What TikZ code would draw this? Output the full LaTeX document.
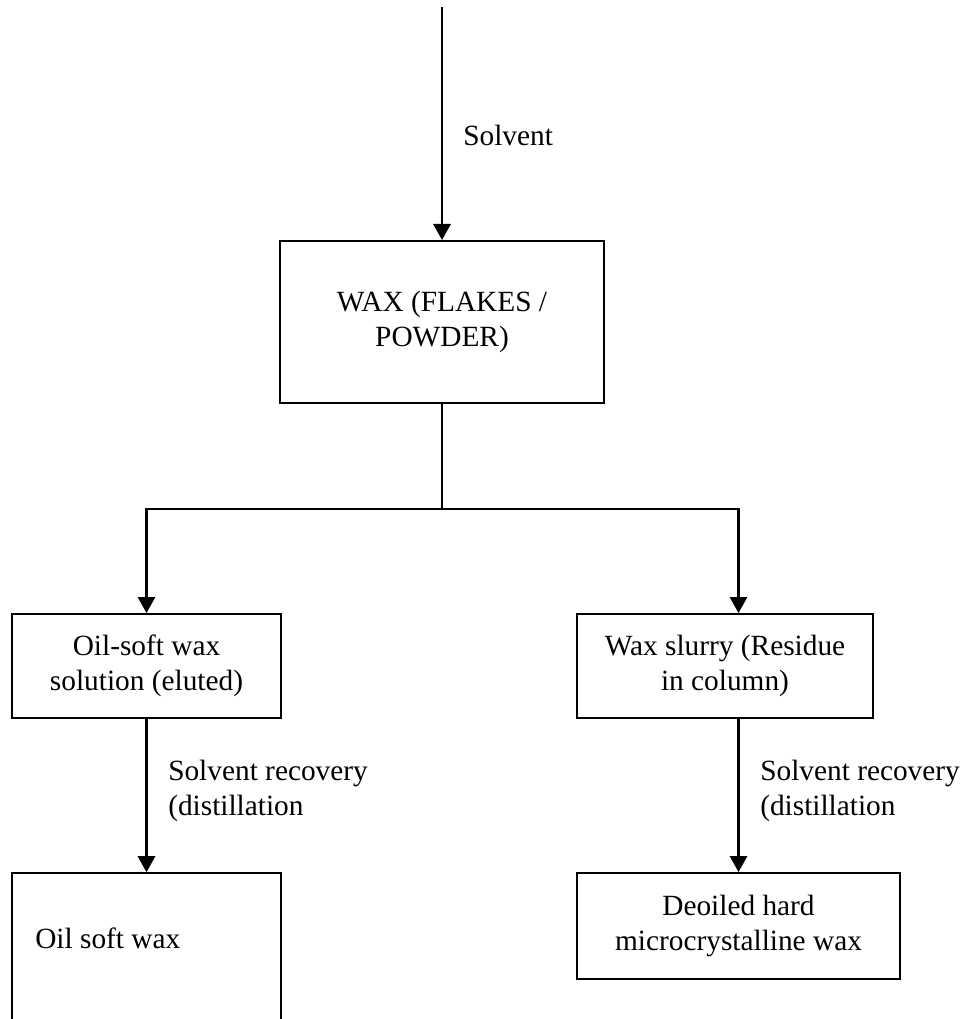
\documentclass[tikz,border=0pt]{standalone}
\usepackage{fontspec}
\setmainfont{Liberation Serif}
\usetikzlibrary{arrows.meta, positioning, calc}

\begin{document}
\begin{tikzpicture}[
  x=0.75pt, y=-0.75pt,
  box/.style={draw, line width=1.5pt, align=center, inner sep=0pt,
              font=\fontsize{22}{26}\selectfont},
  txt/.style={align=left, inner sep=0pt, font=\fontsize{22}{26}\selectfont},
  arr/.style={-{Triangle[length=12pt,width=13pt]}, line width=1.6pt},
  lin/.style={line width=1.6pt}
]
  \useasboundingbox (0,0) rectangle (967,1019);

  % feed
  \coordinate (src) at (442,7);
  \node[box, minimum width=243pt, minimum height=121.5pt] (wax) at (442,322)
       {WAX (FLAKES /\\POWDER)};
  \draw[arr] (src) -- (wax);
  \node[txt, anchor=west] (solv) at (463,135) {Solvent};

  % split into two streams
  \node[box, minimum width=201.75pt, minimum height=78pt] (oilsol) at (146.5,666)
       {Oil-soft wax\\solution (eluted)};
  \node[box, minimum width=222pt, minimum height=78pt] (slurry) at (725,666)
       {Wax slurry (Residue\\in column)};
  \node[box, minimum width=242.25pt, minimum height=79.5pt] (deoiled) at (738.5,926)
       {Deoiled hard\\microcrystalline wax};
  \node[box, minimum width=201.75pt, minimum height=155pt] (oilsoft) at (146.5,976.5) {};
  \node[txt, anchor=west] (oilsofttxt) at (35,938) {Oil soft wax};

  \coordinate (split) at (442,509);
  \draw[lin] (wax) -- (split);
  \draw[arr] (split) -| (oilsol);
  \draw[arr] (split) -| (slurry.north -| deoiled.north);

  % solvent recovery
  \draw[arr] (oilsol) -- (oilsoft);
  \draw[arr] (slurry.south -| deoiled.north) -- (deoiled);
  \node[txt, anchor=west] (recl) at (168,791) {Solvent recovery\\(distillation};
  \node[txt, anchor=west] (recr) at (760,791) {Solvent recovery\\(distillation};
\end{tikzpicture}
\end{document}
